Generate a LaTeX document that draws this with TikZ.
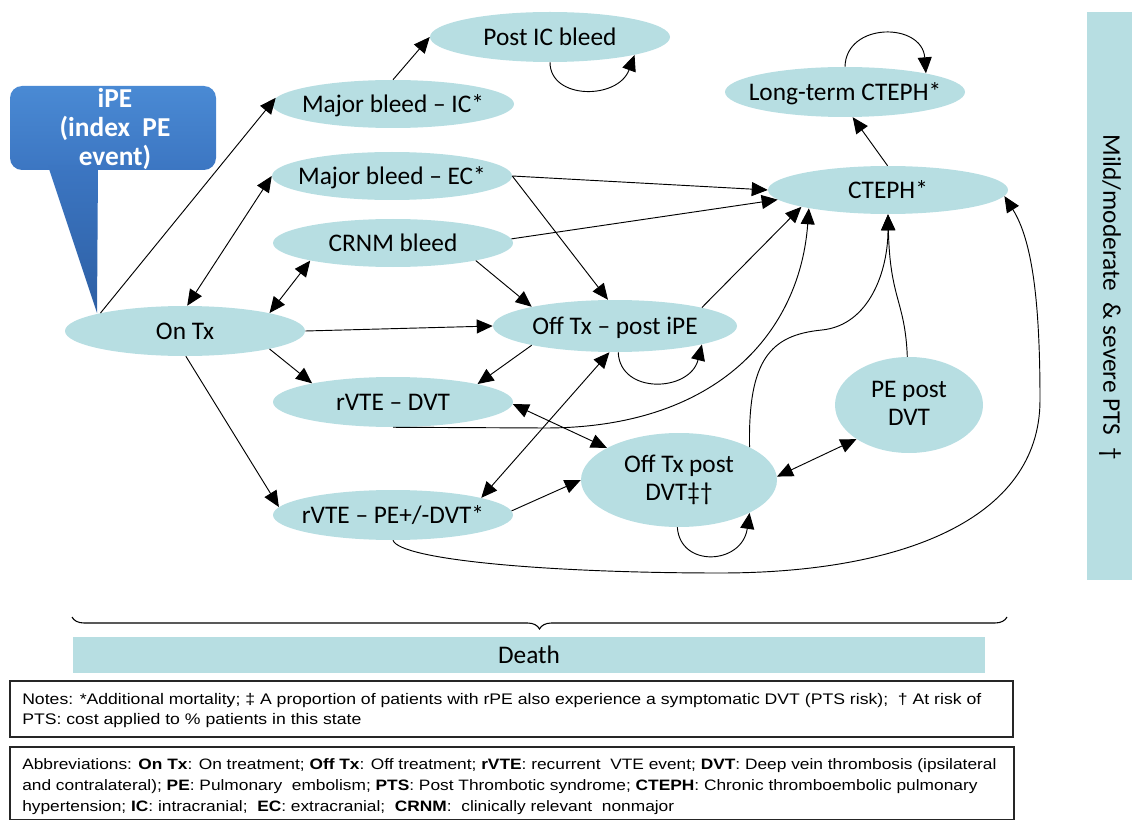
\documentclass[tikz,border=0pt]{standalone}
\usepackage{fontspec}
\setmainfont{Carlito}
\newfontfamily\notefont[FakeStretch=1.15]{Liberation Sans}
\usetikzlibrary{shapes.geometric,arrows.meta,decorations.pathreplacing}
\definecolor{stfill}{HTML}{B7DEE2}
\definecolor{calltop}{HTML}{4A8AD4}
\definecolor{callmid}{HTML}{3C76C2}
\definecolor{callbot}{HTML}{2D5FA4}
\newcommand{\zb}[1]{\makebox[0pt]{\raisebox{-0.32em}[0pt][0pt]{#1}}}
\newcommand{\zbb}[1]{\makebox[0pt]{\raisebox{-0.27em}[0pt][0pt]{\begin{tabular}{@{}c@{}}#1\end{tabular}}}}
\begin{document}
\begin{tikzpicture}[x=0.75pt,y=-0.75pt,
  st/.style 2 args={ellipse, fill=stfill, inner sep=0pt, minimum width=#1*1.5pt, minimum height=#2*1.5pt, font=\fontsize{19}{21}\selectfont},
  arr/.style={line width=0.7pt, -{Triangle[length=12pt,width=10.5pt]}},
  darr/.style={line width=0.7pt, {Triangle[length=12pt,width=10.5pt]}-{Triangle[length=12pt,width=10.5pt]}},
  notebox/.style={draw=black!85, line width=1.1pt},
  notetext/.style={anchor=north west, align=left, inner sep=0pt}
]
\useasboundingbox (0,0) rectangle (1132,820);

% side bar
\fill[stfill] (1087,12) rectangle (1132,580);
\node[rotate=-90, font=\fontsize{19}{21}\selectfont] (pts) at (1110,297) {Mild/moderate\ \ \& severe PTS \ †};

% callout
\shade[top color=calltop, bottom color=callmid, rounded corners=9pt] (10,86) rectangle (216,170);
\shade[top color=callmid, bottom color=callbot] (48,166) -- (98,166) -- (97,313) -- cycle;
\node[align=center, text=white, font=\bfseries\fontsize{20.5}{21.5}\selectfont] (ipe) at (115,129) {iPE\\(index\ \ PE\\event)};

% states
\node[st={120}{25}] (postic) at (550,37) {\zb{Post IC bleed}};
\node[st={121}{24}] (mbic) at (393,104) {\zb{Major bleed -- IC*}};
\node[st={120}{24}] (mbec) at (392,176) {\zb{Major bleed -- EC*}};
\node[st={120}{24}] (crnm) at (393,243) {\zb{CRNM bleed}};
\node[st={120}{25}] (ontx) at (185,331) {\zb{On Tx}};
\node[st={122}{26}] (offipe) at (615,326) {\zb{Off Tx -- post iPE}};
\node[st={120}{25}] (rvtedvt) at (393,402) {\zb{rVTE -- DVT}};
\node[st={120}{25}] (rvtepe) at (393,515) {\zb{rVTE -- PE+/-DVT*}};
\node[st={98}{47}] (offdvt) at (679,480) {\zbb{Off Tx post\\DVT‡†}};
\node[st={74}{48}] (pepost) at (909,405) {\zbb{PE post\\DVT}};
\node[st={120}{24}] (cteph) at (888,190) {\zb{CTEPH*}};
\node[st={120}{25}] (lterm) at (845,92) {\zb{Long-term CTEPH*}};

% connectors
\draw[arr] (ontx.168) -- (mbic.177);
\draw[darr] (ontx.85) -- (mbec.180);
\draw[darr] (ontx.12) -- (crnm.192);
\draw[arr] (ontx.0) -- (offipe.180);
\draw[arr] (ontx.-12) -- (rvtedvt.167);
\draw[arr] (ontx.-88) -- (rvtepe.176);
\draw[arr] (mbic.90) -- (postic.180);
\draw[arr] (postic.-90) .. controls (550,100) and (618,100) .. (postic.-12);
\draw[arr] (mbec.0) -- (cteph.180);
\draw[arr] (mbec.0) -- (offipe.105);
\draw[arr] (crnm.-12) -- (offipe.167);
\draw[arr] (crnm.2) -- (cteph.185);
\draw[arr] (offipe.12) -- (cteph.191);
\draw[arr] (offipe.193) -- (rvtedvt.12);
\draw[arr] (offipe.-83) .. controls (620,395) and (690,392) .. (offipe.-12);
\draw[arr] (rvtedvt.-90) -- (545,428) .. controls (720,428) and (800,330) .. (cteph.193);
\draw[darr] (rvtedvt.-1) -- (offdvt.156);
\draw[darr] (offipe.258) -- (rvtepe.11);
\draw[arr] (rvtepe.2) -- (offdvt.180);
\draw[darr] (offdvt.2) -- (pepost.213);
\draw[arr] (offdvt.-92) .. controls (680,568) and (742,565) .. (offdvt.-25);
\draw[arr] (offdvt.25) .. controls (748,360) and (770,335) .. (822,330) .. controls (870,325) and (888,270) .. (cteph.-90);
\draw[arr] (pepost.92) .. controls (905,300) and (890,300) .. (cteph.-90);
\draw[arr] (rvtepe.-90) .. controls (400,560) and (550,573) .. (720,573) .. controls (900,573) and (1040,520) .. (1040,400) .. controls (1040,300) and (1032,240) .. (cteph.-3);
\draw[arr] (cteph.91) -- (lterm.-73);
\draw[arr] (lterm.90) .. controls (846,22) and (922,22) .. (lterm.13);

% brace and death
\coordinate (bl) at (72,617);
\coordinate (br) at (1007,617);
\draw[line width=0.8pt, decorate, decoration={brace, mirror, amplitude=9pt}] (bl) -- (br);
\fill[stfill] (73,637) rectangle (985,673);
\node[font=\fontsize{19}{21}\selectfont] (death) at (529,655) {Death};

% notes
\draw[notebox] (10,681) rectangle (1013,737);
\node[notetext, font=\notefont\fontsize{11.5}{15}\selectfont] (notes) at (22,693) {Notes: *Additional mortality; ‡ A proportion of patients with rPE also experience a symptomatic DVT (PTS risk);\ \ † At risk of\\PTS: cost applied to \% patients in this state};
\draw[notebox] (10,747) rectangle (1014,819.5);
\node[notetext, font=\notefont\fontsize{11.3}{15.75}\selectfont] (abbr) at (22,758) {Abbreviations: \textbf{On Tx}: On treatment; \textbf{Off Tx}: Off treatment; \textbf{rVTE}: recurrent\ \ VTE event; \textbf{DVT}: Deep vein thrombosis (ipsilateral\\and contralateral); \textbf{PE}: Pulmonary\ \ embolism; \textbf{PTS}: Post Thrombotic syndrome; \textbf{CTEPH}: Chronic thromboembolic pulmonary\\hypertension; \textbf{IC}: intracranial;\ \ \textbf{EC}: extracranial;\ \ \textbf{CRNM}:\ \ clinically relevant\ \ nonmajor};
\end{tikzpicture}
\end{document}
